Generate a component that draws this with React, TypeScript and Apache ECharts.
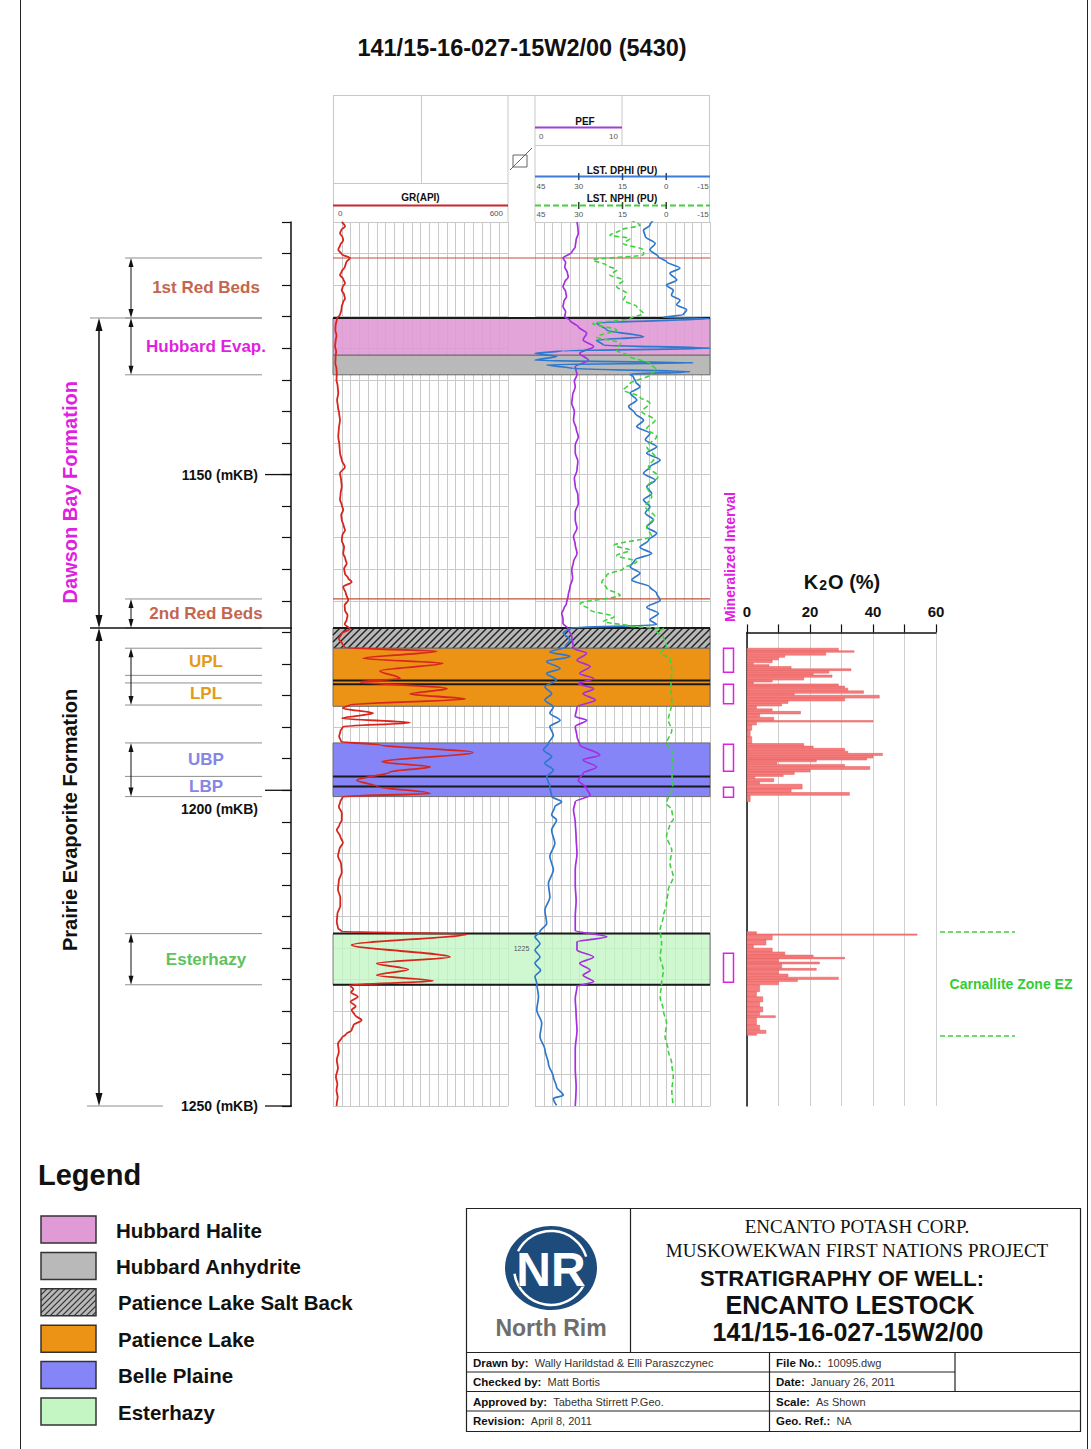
import React, { useEffect, useRef } from "react";
import * as echarts from "echarts";

const FONT = '"Liberation Sans", Arial, Helvetica, sans-serif';
const SERIF = '"Liberation Serif", "Times New Roman", serif';

// ---------------- depth window & scales ----------------
const depthTop = 1110;
const depthBase = 1250;
const k2oDepthTop = 1175;
const depthLabelValues = [1150, 1200, 1250];
const grRange = [0, 600];
const porosityRange = [-15, 45];
const pefRange = [0, 20];
const k2oRange = [0, 60];
const gapDepthLabels = [1225];

// ---------------- log curves: [depth m, value] ----------------
const grCurve: [number, number][] = [
  [1110.0, 30], [1110.7, 41], [1111.3, 28], [1111.8, 24], [1112.4, 33], [1112.9, 35], [1113.6, 25], [1114.4, 18],
  [1115.1, 30], [1115.7, 58], [1116.4, 45], [1117.1, 41], [1117.8, 30], [1118.4, 24], [1119.0, 35], [1119.7, 41],
  [1120.3, 33], [1120.8, 30], [1121.5, 38], [1122.1, 41], [1122.8, 34], [1123.4, 30], [1124.1, 28], [1124.7, 24],
  [1125.2, 15], [1125.5, 13], [1126.3, 9], [1127.1, 8], [1128.0, 12], [1128.8, 9], [1129.7, 7], [1130.5, 11],
  [1131.3, 9], [1132.4, 8], [1133.2, 12], [1134.0, 13], [1135.0, 12], [1136.0, 16], [1137.1, 18], [1138.2, 14],
  [1139.3, 17], [1140.3, 21], [1141.4, 24], [1142.7, 20], [1144.0, 18], [1145.3, 22], [1146.6, 24], [1147.7, 30],
  [1148.8, 41], [1149.8, 24], [1150.9, 28], [1151.9, 30], [1153.0, 26], [1154.0, 24], [1154.8, 30], [1155.6, 35],
  [1156.4, 28], [1157.2, 30], [1158.0, 36], [1158.8, 41], [1159.6, 32], [1160.4, 30], [1161.5, 38], [1162.5, 35],
  [1163.3, 42], [1164.1, 47], [1164.9, 38], [1165.7, 41], [1166.4, 52], [1167.0, 64], [1167.8, 35], [1168.8, 44],
  [1169.9, 52], [1170.7, 40], [1171.5, 41], [1172.3, 50], [1173.0, 47], [1173.7, 40], [1174.4, 58],
  [1175.2, 30], [1176.0, 20], [1176.8, 32], [1177.4, 40], [1178.0, 356], [1179.1, 103], [1179.9, 377],
  [1181.1, 161], [1182.3, 230], [1182.8, 93], [1183.9, 391], [1184.75, 264], [1185.55, 453], [1186.45, 58],
  [1187.0, 34], [1187.8, 137], [1188.6, 31], [1189.3, 264], [1189.9, 34], [1190.7, 25], [1191.5, 21], [1192.3, 28],
  [1192.8, 161], [1194.0, 480], [1195.5, 168], [1196.3, 333], [1197.1, 195], [1198.4, 82], [1199.4, 151],
  [1200.5, 333], [1201.0, 34], [1201.8, 25], [1202.6, 20], [1203.6, 30], [1204.7, 30],
  [1205.5, 22], [1206.3, 13], [1207.3, 25], [1208.3, 34], [1209.3, 22], [1210.4, 17], [1211.7, 28], [1213.0, 30],
  [1214.3, 20], [1215.7, 17], [1217.0, 25], [1218.3, 25], [1219.6, 15], [1220.9, 13], [1221.8, 17], [1222.4, 30],
  [1222.75, 459], [1224.5, 64], [1226.4, 401], [1227.4, 150], [1228.4, 258], [1229.3, 150], [1230.2, 343],
  [1230.85, 58], [1231.5, 70], [1232.0, 62], [1232.7, 85], [1233.5, 60], [1234.2, 78], [1234.8, 64], [1235.6, 75],
  [1236.4, 98], [1237.2, 70], [1238.0, 64], [1238.6, 45], [1239.2, 30], [1240.1, 17], [1241.4, 20], [1242.7, 13],
  [1244.0, 17], [1245.4, 10], [1246.5, 15], [1247.5, 12], [1248.6, 16], [1249.6, 13], [1250.0, 12],
];

const pefCurve: [number, number][] = [
  [1110.0, 4.8], [1111.0, 4.9], [1111.8, 4.95], [1112.8, 4.7], [1113.9, 4.6], [1114.8, 4.2], [1115.7, 3.2],
  [1116.4, 3.5], [1117.1, 3.4], [1118.0, 3.7], [1118.7, 3.8], [1119.5, 3.4], [1120.2, 3.2], [1121.0, 3.5],
  [1121.8, 3.6], [1122.6, 3.3], [1123.4, 3.2], [1124.2, 3.5], [1125.0, 3.4], [1125.6, 4.0], [1126.6, 4.95],
  [1127.6, 5.9], [1128.7, 5.5], [1129.7, 6.7], [1130.8, 5.1], [1131.9, 6.1], [1132.9, 4.6], [1134.2, 4.8],
  [1135.2, 4.5], [1136.1, 4.6], [1137.4, 4.3], [1138.7, 4.2], [1140.0, 4.5], [1141.4, 4.4], [1142.7, 4.7],
  [1144.0, 4.95], [1145.3, 4.6], [1146.6, 4.6], [1147.9, 4.9], [1149.3, 4.8], [1150.6, 4.5], [1151.9, 4.6],
  [1153.2, 4.9], [1154.6, 4.95], [1155.9, 4.6], [1157.2, 4.6], [1158.5, 4.8], [1159.8, 4.4], [1161.1, 4.6],
  [1162.5, 4.8], [1163.8, 4.4], [1165.1, 4.2], [1166.4, 4.3], [1167.8, 4.0], [1169.1, 3.8], [1170.4, 3.6],
  [1171.2, 3.3], [1172.0, 3.05], [1172.8, 3.2], [1173.6, 3.2], [1174.4, 3.8], [1175.7, 4.2], [1177.5, 4.4],
  [1178.3, 5.9], [1179.4, 4.8], [1180.4, 6.3], [1181.5, 5.1], [1182.3, 6.7], [1183.1, 4.95], [1183.9, 6.7],
  [1184.7, 5.5], [1185.7, 6.9], [1186.8, 4.8], [1188.3, 4.6], [1188.9, 5.9], [1189.9, 4.6], [1191.5, 4.8],
  [1192.8, 5.1], [1194.4, 7.4], [1195.2, 5.5], [1196.3, 7.05], [1197.3, 5.5], [1198.4, 4.95], [1199.7, 5.9],
  [1200.8, 6.3], [1201.8, 4.6], [1203.1, 4.4], [1205.0, 4.6], [1207.5, 4.7], [1210.0, 4.8], [1212.5, 4.6],
  [1215.0, 4.6], [1217.5, 4.7], [1220.0, 4.6], [1222.2, 4.6], [1223.2, 8.2], [1224.0, 4.8], [1225.3, 4.8],
  [1226.4, 6.7], [1227.4, 5.1], [1228.5, 6.3], [1229.3, 5.5], [1230.3, 6.7], [1231.1, 4.8], [1233.0, 4.6],
  [1235.5, 4.7], [1238.0, 4.8], [1241.0, 4.6], [1244.0, 4.6], [1247.0, 4.7], [1250.0, 4.6],
];

const dphiCurve: [number, number][] = [
  [1109.7, 4.4], [1110.5, 5.6], [1111.3, 7.8], [1112.3, 7.2], [1113.4, 3.8], [1114.4, 5.6], [1115.5, 2.7],
  [1116.3, -0.1], [1117.3, -4.7], [1118.1, -1.3], [1119.2, -3.6], [1120.0, -0.1], [1120.8, -2.4], [1121.6, -1.8],
  [1122.4, -4.7], [1123.1, -3.6], [1123.9, -7.0], [1124.7, -5.8], [1125.1, 1.0], [1125.3, -15], [1126.0, 23.9],
  [1127.1, 20.4], [1128.2, 7.8], [1128.7, 23.9], [1129.5, 21.6], [1130.0, -15], [1130.4, 35.3], [1130.8, 45],
  [1131.3, 37.6], [1131.9, 45], [1132.3, -9.3], [1132.6, 41], [1133.2, 31.9], [1133.7, -8.1], [1134.1, 12.4],
  [1134.5, 11.3], [1135.3, 10.5], [1136.1, 9.0], [1137.1, 12.4], [1138.2, 10.1], [1139.2, 12.9], [1140.3, 10.7],
  [1141.4, 7.8], [1142.4, 10.1], [1143.5, 5.6], [1144.5, 7.2], [1145.6, 3.3], [1146.6, 6.7], [1147.7, 2.1],
  [1148.8, 5.6], [1149.8, 7.8], [1150.9, 3.8], [1151.9, 6.7], [1153.0, 5.0], [1154.0, 7.8], [1155.1, 5.6],
  [1156.1, 7.2], [1157.2, 4.4], [1158.3, 6.7], [1159.3, 3.3], [1160.4, 6.1], [1161.5, 9.0], [1162.5, 5.0],
  [1163.5, 10.7], [1164.6, 12.4], [1165.6, 9.0], [1166.7, 11.8], [1167.8, 5.6], [1168.8, 3.3], [1169.9, 2.1],
  [1171.0, 6.7], [1172.0, 2.7], [1173.0, 5.6], [1173.8, 3.3], [1174.3, 33.0], [1175.1, 35.3], [1176.2, 33.0],
  [1177.3, 34.7], [1178.1, 39.9], [1178.8, 33.0], [1179.6, 41.0], [1180.7, 36.4], [1181.5, 41.0], [1182.5, 37.6],
  [1183.6, 41.6], [1184.7, 39.3], [1185.7, 41.6], [1186.8, 38.7], [1187.8, 39.9], [1188.9, 36.4], [1189.9, 39.9],
  [1191.3, 38.7], [1192.6, 40.4], [1193.6, 42.1], [1194.7, 39.3], [1195.7, 41.6], [1196.8, 38.7], [1197.9, 41.0],
  [1199.4, 39.9], [1201.0, 39.3], [1201.8, 35.9], [1202.6, 38.2], [1203.9, 39.3], [1204.7, 37.6], [1206.3, 39.3],
  [1208.4, 38.2], [1210.5, 39.9], [1212.6, 38.7], [1214.8, 40.4], [1216.9, 39.9], [1219.0, 41.6], [1221.1, 41.0],
  [1222.4, 43.3], [1223.2, 45], [1224.3, 43.3], [1225.3, 45], [1226.4, 43.3], [1227.4, 45], [1228.5, 43.1],
  [1229.5, 45], [1230.6, 44.4], [1232.7, 43.8], [1234.8, 44.4], [1236.9, 42.7], [1239.0, 43.3], [1241.1, 41.6],
  [1243.3, 40.4], [1245.4, 38.7], [1247.0, 37.6], [1248.3, 35.3], [1248.8, 38.7], [1249.9, 37.6],
];

const nphiCurve: [number, number][] = [
  [1109.7, 12.4], [1110.5, 9.0], [1111.3, 15.8], [1112.1, 19.3], [1112.6, 12.4], [1113.4, 14.7], [1114.4, 7.8],
  [1115.2, 7.8], [1116.0, 25.2], [1116.8, 20.6], [1117.6, 17.0], [1118.4, 19.3], [1119.2, 14.7], [1120.2, 17.0],
  [1121.3, 13.6], [1122.4, 14.7], [1123.4, 10.1], [1124.5, 7.8], [1125.3, 12.4], [1126.1, 25.2], [1127.1, 17.0],
  [1128.2, 23.8], [1129.2, 15.8], [1130.3, 17.0], [1131.3, 12.4], [1132.4, 5.6], [1133.4, 3.3], [1134.2, 5.6],
  [1135.6, 12.4], [1136.6, 14.7], [1137.7, 9.0], [1138.7, 5.6], [1140.0, 8.4], [1141.4, 3.8], [1142.7, 6.7],
  [1144.0, 3.3], [1145.6, 6.7], [1147.2, 3.8], [1148.8, 6.1], [1150.3, 2.7], [1151.9, 6.7], [1153.5, 5.0],
  [1155.1, 7.2], [1156.7, 3.8], [1158.3, 6.7], [1159.8, 5.0], [1161.2, 17.9], [1162.0, 12.4], [1162.8, 17.0],
  [1163.8, 10.1], [1164.9, 14.7], [1165.9, 20.4], [1167.0, 22.1], [1168.0, 20.4], [1169.1, 15.8], [1170.4, 29.4],
  [1171.5, 25.9], [1172.5, 17.9], [1173.3, 21.5], [1174.0, 12.4], [1174.4, 1.0], [1174.9, 3.3], [1175.7, 1.0],
  [1177.3, -0.1], [1178.3, 2.1], [1179.1, -1.3], [1181.0, -1.9], [1183.6, -1.6], [1186.2, -1.9], [1188.9, -0.7],
  [1190.5, -1.9], [1192.6, -0.1], [1194.2, -2.4], [1196.8, -1.9], [1199.4, -2.2], [1202.1, -0.1], [1203.1, -1.9],
  [1204.7, -2.4], [1205.2, -1.3], [1207.3, -0.1], [1209.5, -1.9], [1211.6, -1.3], [1213.7, -2.4], [1215.8, -0.7],
  [1217.9, -0.1], [1220.0, 1.0], [1222.1, 2.1], [1224.3, 1.6], [1226.4, 2.1], [1228.5, 1.0], [1230.6, 1.6],
  [1232.7, 2.1], [1234.8, 1.0], [1236.9, -0.1], [1239.0, 0.4], [1241.2, -0.7], [1243.3, -1.9], [1245.4, -2.4],
  [1247.5, -1.9], [1249.9, -2.4],
];

// ---------------- K2O assays: [top depth, K2O %] (each runs to next depth) ----------------
const k2oPotashZone: [number, number][] = [
  [1177.5, 29], [1177.9, 34], [1178.15, 25], [1178.6, 12], [1178.95, 10], [1179.35, 8], [1179.8, 2],
  [1180.1, 7], [1180.4, 14], [1180.75, 33], [1181.05, 26], [1181.45, 21], [1181.75, 27], [1182.1, 18],
  [1182.55, 8], [1182.85, 2], [1183.15, 29], [1183.5, 31], [1183.85, 32], [1184.25, 37], [1184.65, 15],
  [1184.95, 42], [1185.4, 31], [1185.85, 13], [1186.25, 11], [1186.65, 3], [1187.1, 8], [1187.5, 17],
  [1187.9, 4], [1188.45, 8.5], [1188.95, 40], [1189.2, 3], [1189.65, 1.5], [1190.5, 1], [1191.5, 1.5],
  [1192.6, 18], [1193.0, 21], [1193.35, 31], [1193.8, 32], [1194.15, 43], [1194.5, 40], [1194.9, 38],
  [1195.2, 22], [1195.5, 9.5], [1195.9, 31], [1196.25, 39], [1196.7, 20], [1197.1, 15], [1197.5, 11.5],
  [1197.8, 2.5], [1198.15, 8.5], [1198.65, 4], [1199.05, 17.5], [1199.8, 14], [1200.35, 32.5], [1200.8, 1],
  [1201.8, 0],
];
const k2oEsterhazyZone: [number, number][] = [
  [1222.4, 3], [1222.75, 54], [1222.95, 8], [1223.7, 6], [1224.5, 2], [1225.0, 8], [1225.6, 12], [1226.1, 21],
  [1226.45, 31], [1226.7, 10], [1227.2, 23], [1227.5, 11], [1228.2, 22], [1228.5, 10], [1229.1, 13],
  [1229.6, 29], [1229.95, 16], [1230.3, 10], [1230.8, 4], [1231.9, 3], [1232.7, 5], [1233.5, 4], [1234.3, 5],
  [1235.1, 4], [1235.7, 9], [1236.0, 3], [1237.2, 4], [1238.0, 6], [1238.5, 3], [1238.8, 0],
];

// ---------------- stratigraphy ----------------
const unitNames = ["1st Red Beds", "Hubbard Evap.", "2nd Red Beds", "UPL", "LPL", "UBP", "LBP", "Esterhazy"];
const unitTops = [1115.7, 1125.2, 1169.7, 1177.5, 1183.0, 1192.5, 1197.8, 1222.7];
const unitBases = [1125.2, 1134.2, 1174.3, 1181.8, 1186.5, 1197.8, 1201.0, 1230.8];
const unitArrowTops = [1115.7, 1125.2, 1169.7, 1177.5, 1192.5, 1222.7];
const unitArrowBases = [1125.2, 1134.2, 1174.3, 1186.5, 1201.0, 1230.8];

const formationNames = ["Dawson Bay Formation", "Prairie Evaporite Formation"];
const formationTops = [1125.2, 1174.3];
const formationBases = [1174.3, 1250];
const formationLabelDepths = [1152.8, 1204.7];

const bandNames = ["Hubbard Halite", "Hubbard Anhydrite", "Patience Lake Salt Back", "Patience Lake", "Belle Plaine", "Esterhazy"];
const bandTops = [1125.2, 1131.1, 1174.3, 1177.5, 1192.5, 1222.7];
const bandBases = [1131.1, 1134.2, 1177.5, 1186.7, 1201.0, 1230.8];

const redBedMarkers = [1115.7, 1169.7];
const contactLines = [1125.2, 1174.3, 1182.6, 1183.2, 1197.8, 1199.4, 1222.7, 1230.8];

const mineralTops = [1177.5, 1183.2, 1192.7, 1199.5, 1225.8];
const mineralBases = [1181.3, 1186.3, 1197.0, 1201.1, 1230.4];

const carnalliteZone = [1222.45, 1238.9];

// ---------------- styles ----------------
const unitColor: Record<string, string> = {
  "1st Red Beds": "#c4664e", "Hubbard Evap.": "#e11fe0", "2nd Red Beds": "#c4664e",
  UPL: "#e29a1b", LPL: "#e29a1b", UBP: "#8585e6", LBP: "#8585e6", Esterhazy: "#5fc25f",
};
const formationColor: Record<string, string> = {
  "Dawson Bay Formation": "#e11fe0", "Prairie Evaporite Formation": "#111111",
};
const bandFill: Record<string, string> = {
  "Hubbard Halite": "#e09ad6", "Hubbard Anhydrite": "#b9b9b9", "Patience Lake Salt Back": "#b8b8b8",
  "Patience Lake": "#ec9316", "Belle Plaine": "#8585f7", Esterhazy: "#c4f6c4",
};
const bandOpacity: Record<string, number> = {
  "Hubbard Halite": 0.9, "Hubbard Anhydrite": 1, "Patience Lake Salt Back": 1,
  "Patience Lake": 1, "Belle Plaine": 1, Esterhazy: 0.8,
};

const TRACK_TOP = 222;
const TRACK_H = 884;
const PX_PER_M = TRACK_H / (depthBase - depthTop);
const GRID_GRAY = "#c9c9c9";

function hatchSegments(x: number, y: number, w: number, h: number, step: number) {
  const segs: number[][] = [];
  for (let s = -h; s < w; s += step) {
    let x1 = x + s, y1 = y + h, x2 = x + s + h, y2 = y;
    if (x1 < x) { y1 -= x - x1; x1 = x; }
    if (x2 > x + w) { y2 += x2 - (x + w); x2 = x + w; }
    if (x2 > x1) segs.push([x1, y1, x2, y2]);
  }
  return segs;
}

function tStyle(text: string, o: any = {}) {
  const align = o.align || "left";
  const v = o.valign || "middle";
  return {
    text, fill: o.color || "#111", fontSize: o.size || 12, fontWeight: o.bold ? "bold" : "normal",
    fontFamily: o.family || FONT, textAlign: align, textVerticalAlign: v, align, verticalAlign: v,
    rich: o.rich,
  };
}
function gText(x: number, y: number, text: string, o: any = {}) {
  return { type: "text", x, y, rotation: o.rotation || 0, silent: true, z: 10, style: tStyle(text, o) };
}
function gLine(x1: number, y1: number, x2: number, y2: number, color = GRID_GRAY, width = 1, dash?: number[]) {
  return { type: "line", silent: true, z: 10, shape: { x1, y1, x2, y2 }, style: { stroke: color, lineWidth: width, lineDash: dash } };
}
function gRect(x: number, y: number, w: number, h: number, fill: string, stroke = "none", lw = 1) {
  return { type: "rect", silent: true, z: 10, shape: { x, y, width: w, height: h }, style: { fill, stroke, lineWidth: lw } };
}
function arrowEls(x: number, y1: number, y2: number, headW: number, headL: number, lw: number, color: string) {
  return [
    { type: "line", shape: { x1: x, y1: y1 + headL * 0.7, x2: x, y2: y2 - headL * 0.7 }, style: { stroke: color, lineWidth: lw } },
    { type: "polygon", shape: { points: [[x, y1], [x - headW / 2, y1 + headL], [x + headW / 2, y1 + headL]] }, style: { fill: color } },
    { type: "polygon", shape: { points: [[x, y2], [x - headW / 2, y2 - headL], [x + headW / 2, y2 - headL]] }, style: { fill: color } },
  ];
}

function buildOption() {
  const depthY = (gridIndex: number, extra: any = {}) => ({
    gridIndex, type: "value", min: depthTop, max: depthBase, inverse: true, show: false, ...extra,
  });
  const hiddenX = (gridIndex: number, min: number, max: number) => ({ gridIndex, type: "value", min, max, show: false });

  const grids = [
    { left: 291, top: TRACK_TOP, width: 1, height: TRACK_H }, // 0 depth axis
    { left: 0, top: TRACK_TOP, width: 1091, height: TRACK_H }, // 1 overlay (page px across)
    { left: 333, top: TRACK_TOP, width: 175, height: TRACK_H }, // 2 GR
    { left: 535, top: TRACK_TOP, width: 175, height: TRACK_H }, // 3 porosity/PEF
    { left: 333, top: TRACK_TOP, width: 377, height: TRACK_H }, // 4 bands
    {
      left: 747, top: TRACK_TOP + (k2oDepthTop - depthTop) * PX_PER_M, width: 189,
      height: (depthBase - k2oDepthTop) * PX_PER_M,
    }, // 5 K2O
  ];

  const trackSplit = { show: true, lineStyle: { color: GRID_GRAY, width: 1 } };
  const xAxes = [
    hiddenX(0, 0, 1),
    hiddenX(1, 0, 1091),
    {
      gridIndex: 2, type: "value", min: grRange[0], max: grRange[1], interval: 30,
      axisLine: { show: false }, axisTick: { show: false }, axisLabel: { show: false }, splitLine: trackSplit,
    },
    {
      gridIndex: 3, type: "value", min: porosityRange[0], max: porosityRange[1], inverse: true, interval: 3,
      axisLine: { show: false }, axisTick: { show: false }, axisLabel: { show: false }, splitLine: trackSplit,
    },
    hiddenX(3, pefRange[0], pefRange[1]),
    hiddenX(4, 0, 1),
    {
      gridIndex: 5, type: "value", min: k2oRange[0], max: k2oRange[1], interval: 10, position: "top",
      axisLine: { show: true, lineStyle: { color: "#111", width: 1.5 } },
      axisTick: { show: true, length: 8, lineStyle: { color: "#111", width: 1.2 } },
      axisLabel: {
        show: true, margin: 13, color: "#111", fontSize: 15, fontWeight: "bold", fontFamily: FONT,
        formatter: (v: number) => (v % 20 === 0 ? String(v) : ""),
      },
      splitLine: { show: true, lineStyle: { color: "#cfcfcf", width: 1 } },
    },
  ];
  const yAxes = [
    depthY(0, {
      show: true, interval: 5,
      axisLine: { show: true, lineStyle: { color: "#111", width: 1.5 } },
      axisTick: { show: true, length: 9, lineStyle: { color: "#111", width: 1.2 } },
      axisLabel: { show: false }, splitLine: { show: false },
    }),
    depthY(1),
    depthY(2, {
      show: true, interval: 5, axisLine: { show: false }, axisTick: { show: false }, axisLabel: { show: false },
      splitLine: trackSplit,
    }),
    depthY(3, {
      show: true, interval: 5, axisLine: { show: false }, axisTick: { show: false }, axisLabel: { show: false },
      splitLine: trackSplit,
    }),
    depthY(4),
    {
      gridIndex: 5, type: "value", min: k2oDepthTop, max: depthBase, inverse: true,
      axisLine: { show: true, lineStyle: { color: "#111", width: 1.5 } },
      axisTick: { show: false }, axisLabel: { show: false }, splitLine: { show: false },
    },
  ];

  const curve = (name: string, data: [number, number][], xi: number, yi: number, color: string, width: number, dash?: number[]) => ({
    type: "line", name, xAxisIndex: xi, yAxisIndex: yi, data: data.map(([d, v]) => [v, d]),
    showSymbol: false, symbol: "none", smooth: 0.3, smoothMonotone: "y", clip: true, silent: true, z: 6,
    lineStyle: { color, width, type: dash || "solid" },
  });

  const boundaryDepths = Array.from(new Set([...unitTops, ...unitBases])).sort((a, b) => a - b);
  const formationDepths = Array.from(new Set([...formationTops, ...formationBases])).sort((a, b) => a - b);

  const k2oBars: number[][] = [];
  [k2oPotashZone, k2oEsterhazyZone].forEach((zone) => {
    for (let i = 0; i < zone.length - 1; i++) k2oBars.push([zone[i][0], zone[i + 1][0], zone[i][1]]);
  });

  const series: any[] = [
    {
      type: "custom", name: "bands", xAxisIndex: 5, yAxisIndex: 4, z: 2, silent: true,
      data: bandNames.map((n, i) => [bandTops[i], bandBases[i], i]),
      renderItem: (_p: any, api: any) => {
        const i = api.value(2);
        const name = bandNames[i];
        const a = api.coord([0, api.value(0)]);
        const b = api.coord([1, api.value(1)]);
        const x = a[0], y = a[1], w = b[0] - a[0], h = b[1] - a[1];
        const children: any[] = [
          { type: "rect", shape: { x, y, width: w, height: h }, style: { fill: bandFill[name], opacity: bandOpacity[name], stroke: "#6a6a6a", lineWidth: 1 } },
        ];
        if (name === "Patience Lake Salt Back") {
          hatchSegments(x, y, w, h, 7).forEach((s) =>
            children.push({ type: "line", shape: { x1: s[0], y1: s[1], x2: s[2], y2: s[3] }, style: { stroke: "#222", lineWidth: 1.4 } }),
          );
        }
        return { type: "group", children };
      },
    },
    {
      type: "custom", name: "contacts", xAxisIndex: 5, yAxisIndex: 4, z: 4, silent: true,
      data: contactLines.map((d) => [d, 1]).concat(redBedMarkers.map((d) => [d, 0])),
      renderItem: (_p: any, api: any) => {
        const d = api.value(0);
        const heavy = api.value(1) === 1;
        const a = api.coord([0, d]);
        const b = api.coord([1, d]);
        return {
          type: "line", shape: { x1: a[0], y1: a[1], x2: b[0], y2: b[1] },
          style: { stroke: heavy ? "#1a1a1a" : "#c0503c", lineWidth: heavy ? 2 : 1.2 },
        };
      },
    },
    curve("GR", grCurve, 2, 2, "#d8261e", 1.8),
    curve("PEF", pefCurve, 4, 3, "#a52fe0", 1.7),
    curve("LST. DPHI", dphiCurve, 3, 3, "#2f78cc", 1.7),
    curve("LST. NPHI", nphiCurve, 3, 3, "#3fd23f", 1.6, [5, 3]),
    {
      type: "custom", name: "gapLabel", xAxisIndex: 1, yAxisIndex: 1, z: 7, silent: true,
      data: gapDepthLabels.map((d) => [d, 0]),
      renderItem: (_p: any, api: any) => {
        const d = api.value(0);
        const p = api.coord([521.5, d]);
        return { type: "text", x: p[0], y: p[1], style: tStyle(String(d), { size: 7, color: "#555", align: "center" }) };
      },
    },
    {
      type: "custom", name: "unitBoundaries", xAxisIndex: 1, yAxisIndex: 1, z: 5, silent: true,
      data: boundaryDepths.map((d) => [d, 0]),
      renderItem: (_p: any, api: any) => {
        const d = api.value(0);
        const a = api.coord([125, d]);
        const b = api.coord([262, d]);
        return { type: "line", shape: { x1: a[0], y1: a[1], x2: b[0], y2: b[1] }, style: { stroke: "#8f8f8f", lineWidth: 1 } };
      },
    },
    {
      type: "custom", name: "unitArrows", xAxisIndex: 1, yAxisIndex: 1, z: 6, silent: true,
      data: unitArrowTops.map((t, i) => [t, unitArrowBases[i]]),
      renderItem: (_p: any, api: any) => {
        const a = api.coord([131, api.value(0)]);
        const b = api.coord([131, api.value(1)]);
        return { type: "group", children: arrowEls(a[0], a[1], b[1], 5, 9, 1, "#111") };
      },
    },
    {
      type: "custom", name: "unitLabels", xAxisIndex: 1, yAxisIndex: 1, z: 6, silent: true,
      data: unitNames.map((n, i) => [(unitTops[i] + unitBases[i]) / 2, i]),
      renderItem: (_p: any, api: any) => {
        const name = unitNames[api.value(1)];
        const p = api.coord([206, api.value(0)]);
        return { type: "text", x: p[0], y: p[1], style: tStyle(name, { size: 17, bold: true, color: unitColor[name], align: "center" }) };
      },
    },
    {
      type: "custom", name: "formationBoundaries", xAxisIndex: 1, yAxisIndex: 1, z: 6, silent: true,
      data: formationDepths.map((d) => [d, 0]),
      renderItem: (_p: any, api: any) => {
        const d = api.value(0);
        const isTop = formationTops.indexOf(d) >= 0;
        const isBase = formationBases.indexOf(d) >= 0;
        let x0 = 90, x1 = 262, color = "#8f8f8f", lw = 1;
        if (isTop && isBase) { x1 = 292; color = "#111"; lw = 1.5; }
        else if (!isTop) { x0 = 87; x1 = 163; }
        const a = api.coord([x0, d]);
        const b = api.coord([x1, d]);
        return { type: "line", shape: { x1: a[0], y1: a[1], x2: b[0], y2: b[1] }, style: { stroke: color, lineWidth: lw } };
      },
    },
    {
      type: "custom", name: "formations", xAxisIndex: 1, yAxisIndex: 1, z: 6, silent: true,
      data: formationNames.map((n, i) => [formationTops[i], formationBases[i], formationLabelDepths[i], i]),
      renderItem: (_p: any, api: any) => {
        const name = formationNames[api.value(3)];
        const a = api.coord([99, api.value(0)]);
        const b = api.coord([99, api.value(1)]);
        const l = api.coord([70, api.value(2)]);
        return {
          type: "group",
          children: [
            ...arrowEls(a[0], a[1], b[1], 7, 13, 1.5, "#111"),
            { type: "text", x: l[0], y: l[1], rotation: Math.PI / 2, style: tStyle(name, { size: 20, bold: true, color: formationColor[name], align: "center" }) },
          ],
        };
      },
    },
    {
      type: "custom", name: "depthLabels", xAxisIndex: 1, yAxisIndex: 1, z: 6, silent: true,
      data: depthLabelValues.map((d) => [d, 0]),
      renderItem: (_p: any, api: any) => {
        const d = api.value(0);
        const a = api.coord([265, d]);
        const b = api.coord([292, d]);
        const dy = d === 1200 ? 19 : 0;
        return {
          type: "group",
          children: [
            { type: "line", shape: { x1: a[0], y1: a[1], x2: b[0], y2: b[1] }, style: { stroke: "#111", lineWidth: 1.3 } },
            { type: "text", x: 258, y: a[1] + dy, style: tStyle(d + " (mKB)", { size: 14, bold: true, align: "right" }) },
          ],
        };
      },
    },
    {
      type: "custom", name: "mineralized", xAxisIndex: 1, yAxisIndex: 1, z: 6, silent: true,
      data: mineralTops.map((t, i) => [t, mineralBases[i]]),
      renderItem: (_p: any, api: any) => {
        const a = api.coord([723.5, api.value(0)]);
        const b = api.coord([733.5, api.value(1)]);
        return { type: "rect", shape: { x: a[0], y: a[1], width: b[0] - a[0], height: b[1] - a[1] }, style: { fill: "none", stroke: "#e020e0", lineWidth: 1.5 } };
      },
    },
    {
      type: "custom", name: "K2O", xAxisIndex: 6, yAxisIndex: 5, z: 4, silent: true,
      data: k2oBars,
      encode: { x: 2, y: [0, 1] },
      renderItem: (_p: any, api: any) => {
        const a = api.coord([0, api.value(0)]);
        const b = api.coord([api.value(2), api.value(1)]);
        return {
          type: "rect", shape: { x: a[0], y: a[1], width: b[0] - a[0], height: b[1] - a[1] },
          style: { fill: "#f67d7d", stroke: "#e45a5a", lineWidth: 0.5 },
        };
      },
    },
    {
      type: "custom", name: "carnallite", xAxisIndex: 1, yAxisIndex: 1, z: 6, silent: true,
      data: [[carnalliteZone[0], carnalliteZone[1]]],
      renderItem: (_p: any, api: any) => {
        const t0 = api.coord([940, api.value(0)]);
        const t1 = api.coord([1015, api.value(0)]);
        const b0 = api.coord([940, api.value(1)]);
        const b1 = api.coord([1015, api.value(1)]);
        const m = api.coord([1011, (api.value(0) + api.value(1)) / 2]);
        const ls = { stroke: "#3fcf3f", lineWidth: 1.5, lineDash: [5, 3] };
        return {
          type: "group",
          children: [
            { type: "line", shape: { x1: t0[0], y1: t0[1], x2: t1[0], y2: t1[1] }, style: ls },
            { type: "line", shape: { x1: b0[0], y1: b0[1], x2: b1[0], y2: b1[1] }, style: ls },
            { type: "text", x: m[0], y: m[1], style: tStyle("Carnallite Zone EZ", { size: 14, bold: true, color: "#33cc33", align: "center" }) },
          ],
        };
      },
    },
  ];

  const g: any[] = [];
  g.push(gLine(20.5, 0, 20.5, 1449, "#222", 1));
  g.push(gLine(1087.5, 0, 1087.5, 1449, "#222", 1));
  g.push(gText(522, 48, "141/15-16-027-15W2/00 (5430)", { size: 23.5, bold: true, align: "center" }));

  g.push(gLine(333, 95.5, 710, 95.5));
  [333.5, 508, 535, 709.5].forEach((x) => g.push(gLine(x, 95, x, 222)));
  g.push(gLine(421.5, 95, 421.5, 183));
  g.push(gLine(622, 95, 622, 145));
  g.push(gLine(333, 183.5, 508, 183.5));
  g.push(gLine(535, 145.5, 710, 145.5));
  g.push(gText(420.5, 197, "GR(API)", { size: 10, bold: true, align: "center" }));
  g.push(gLine(333, 205.5, 508, 205.5, "#c8282d", 2));
  g.push(gText(338, 213.5, String(grRange[0]), { size: 8, color: "#555" }));
  g.push(gText(503, 213.5, String(grRange[1]), { size: 8, color: "#555", align: "right" }));
  g.push(gRect(513, 155, 14, 12, "none", "#666", 1));
  g.push(gLine(510, 170, 532, 148, "#666", 1));
  g.push(gText(585, 121.5, "PEF", { size: 10, bold: true, align: "center" }));
  g.push(gLine(535, 127.5, 622, 127.5, "#a040d0", 2));
  g.push(gText(539, 136.5, "0", { size: 8, color: "#555" }));
  g.push(gText(618, 136.5, "10", { size: 8, color: "#555", align: "right" }));
  const porX = (v: number) => 535 + ((45 - v) / 60) * 175;
  const porLabels = [45, 30, 15, 0, -15];
  g.push(gText(622, 170, "LST. DPHI (PU)", { size: 10, bold: true, align: "center" }));
  g.push(gLine(535, 176.5, 710, 176.5, "#3b7dd8", 2));
  g.push(gText(622, 198.5, "LST. NPHI (PU)", { size: 10, bold: true, align: "center" }));
  g.push(gLine(535, 205.5, 710, 205.5, "#44cc44", 2, [6, 3]));
  [30, 15, 0].forEach((v) => {
    g.push(gLine(porX(v), 173, porX(v), 180, "#2a4a7a", 1.5));
    g.push(gLine(porX(v), 202, porX(v), 209, "#2a4a2a", 1.5));
  });
  porLabels.forEach((v) => {
    const x = v === 45 ? 541 : v === -15 ? 703 : porX(v);
    g.push(gText(x, 186, String(v), { size: 8, color: "#555", align: "center" }));
    g.push(gText(x, 214.5, String(v), { size: 8, color: "#555", align: "center" }));
  });

  g.push(gText(730, 557, "Mineralized Interval", { size: 14, bold: true, color: "#e020e0", align: "center", rotation: Math.PI / 2 }));
  g.push({
    type: "text", x: 842, y: 582, silent: true, z: 10,
    style: {
      ...tStyle("{a|K}{s|2}{a|O (%)}", { size: 20, bold: true, align: "center" }),
      rich: {
        a: { fontSize: 20, fontWeight: "bold", fontFamily: FONT, fill: "#111", color: "#111" },
        s: { fontSize: 14, fontWeight: "bold", fontFamily: FONT, fill: "#111", color: "#111", padding: [6, 1, 0, 1] },
      },
    },
  });

  g.push(gText(38, 1175, "Legend", { size: 29, bold: true }));
  bandNames.forEach((name, i) => {
    const y = 1216 + i * 36.4;
    if (name === "Patience Lake Salt Back") {
      g.push(gRect(41, y, 55, 27, bandFill[name]));
      hatchSegments(41, y, 55, 27, 6).forEach((s) => g.push(gLine(s[0], s[1], s[2], s[3], "#333", 1.2)));
      g.push(gRect(41, y, 55, 27, "none", "#333", 1.5));
    } else {
      g.push(gRect(41, y, 55, 27, bandFill[name], "#333", 1.5));
    }
    g.push(gText(name.indexOf("Hubbard") === 0 ? 116 : 118, y + 14, name, { size: 20.5, bold: true }));
  });

  g.push(gRect(466.5, 1208.5, 614, 223, "none", "#222", 1.2));
  g.push(gLine(630.5, 1208.5, 630.5, 1352, "#222", 1.2));
  g.push(gLine(466.5, 1352.5, 1080.5, 1352.5, "#222", 1.2));
  g.push(gLine(466.5, 1372, 955, 1372, "#222", 1.2));
  g.push(gLine(466.5, 1391.5, 1080.5, 1391.5, "#222", 1.2));
  g.push(gLine(466.5, 1411, 1080.5, 1411, "#222", 1.2));
  g.push(gLine(769.5, 1352.5, 769.5, 1431.5, "#222", 1.2));
  g.push(gLine(955, 1352.5, 955, 1391.5, "#222", 1.2));
  g.push({ type: "ellipse", silent: true, z: 10, shape: { cx: 551, cy: 1268, rx: 46, ry: 42 }, style: { fill: "#1d4b7b" } });
  g.push({ type: "arc", silent: true, z: 11, shape: { cx: 551, cy: 1268, r: 37, startAngle: 0.15 * Math.PI, endAngle: 0.95 * Math.PI }, style: { stroke: "#ffffff", lineWidth: 2.5, fill: "none" } });
  g.push({ type: "arc", silent: true, z: 11, shape: { cx: 551, cy: 1268, r: 37, startAngle: 1.15 * Math.PI, endAngle: 1.9 * Math.PI }, style: { stroke: "#ffffff", lineWidth: 2.5, fill: "none" } });
  g.push({ type: "text", x: 551, y: 1269, silent: true, z: 12, style: { ...tStyle("NR", { size: 48, bold: true, color: "#ffffff", align: "center" }), stroke: "#1d4b7b", lineWidth: 1 } });
  g.push(gText(551, 1328, "North Rim", { size: 23, bold: true, color: "#6e6e6e", align: "center" }));
  g.push(gText(857, 1226, "ENCANTO POTASH CORP.", { size: 19, family: SERIF, align: "center" }));
  g.push(gText(857, 1250, "MUSKOWEKWAN FIRST NATIONS PROJECT", { size: 19, family: SERIF, align: "center" }));
  g.push(gText(842, 1278, "STRATIGRAPHY OF WELL:", { size: 22, bold: true, align: "center" }));
  g.push(gText(850, 1305, "ENCANTO LESTOCK", { size: 25, bold: true, align: "center" }));
  g.push(gText(848, 1332, "141/15-16-027-15W2/00", { size: 25, bold: true, align: "center" }));
  const rowRich = {
    b: { fontSize: 11.5, fontWeight: "bold", fontFamily: FONT, fill: "#111", color: "#111" },
    n: { fontSize: 11, fontFamily: FONT, fill: "#333", color: "#333" },
  };
  const rows: [number, number, string, string][] = [
    [473, 1362.5, "Drawn by:", "Wally Harildstad & Elli Paraszczynec"],
    [473, 1382, "Checked by:", "Matt Bortis"],
    [473, 1401.5, "Approved by:", "Tabetha Stirrett P.Geo."],
    [473, 1421, "Revision:", "April 8, 2011"],
    [776, 1362.5, "File No.:", "10095.dwg"],
    [776, 1382, "Date:", "January 26, 2011"],
    [776, 1401.5, "Scale:", "As Shown"],
    [776, 1421, "Geo. Ref.:", "NA"],
  ];
  rows.forEach(([x, y, label, value]) => {
    g.push({ type: "text", x, y, silent: true, z: 10, style: { ...tStyle(`{b|${label}}  {n|${value}}`, { size: 11 }), rich: rowRich } });
  });

  return {
    animation: false,
    backgroundColor: "#ffffff",
    textStyle: { fontFamily: FONT },
    grid: grids,
    xAxis: xAxes,
    yAxis: yAxes,
    series,
    graphic: { elements: g },
  };
}

export default function App() {
  const ref = useRef<HTMLDivElement>(null);
  useEffect(() => {
    if (!ref.current) return;
    const chart = echarts.init(ref.current, null, { renderer: "svg" });
    chart.setOption(buildOption() as any);
    return () => chart.dispose();
  }, []);
  return (
    <div
      ref={ref}
      style={{ position: "absolute", left: 0, top: 0, width: 1091, height: 1449, background: "#fff" }}
    />
  );
}
